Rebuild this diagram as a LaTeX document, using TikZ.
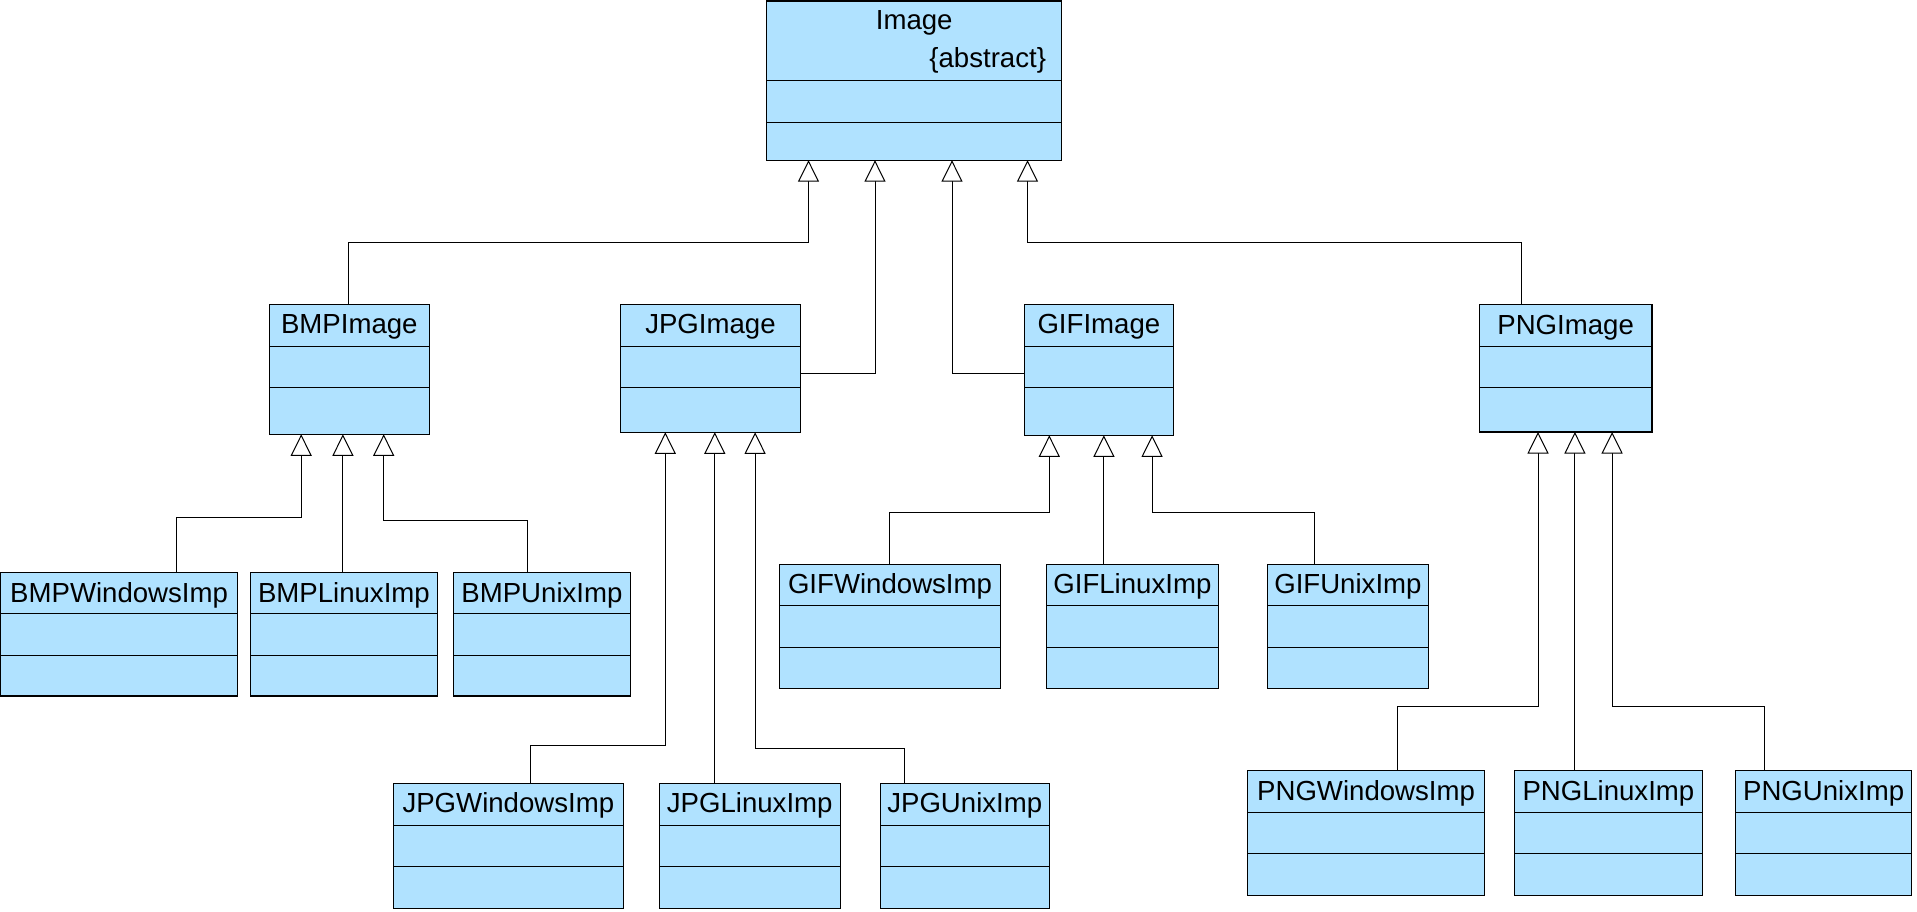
\documentclass[tikz,border=0pt]{standalone}
\usepackage{fontspec}
\setmainfont{Liberation Sans}
\usetikzlibrary{arrows.meta}
\definecolor{clsfill}{HTML}{B0E2FF}
\tikzset{
  cls/.style={draw=black, line width=1.1pt, fill=clsfill, rectangle, inner sep=0pt, outer sep=0pt},
  clsline/.style={draw=black, line width=1.1pt},
  clstitle/.style={inner sep=0pt, outer sep=0pt, font=\fontsize{27.6}{33}\selectfont},
  inh/.style={draw=black, line width=1pt, -{Triangle[length=21.5pt, width=21pt, fill=white, line width=1pt]}}
}
\newcommand\umlcls[8]{%
  \node[cls, minimum width={#4-#2}, minimum height={#5-#3}, anchor=north west] (#1) at (#2,#3) {};
  \draw[clsline] (#2,#6) -- (#4,#6) (#2,#7) -- (#4,#7);
  \node[clstitle, anchor=base] (#1-t) at ({(#2+#4)/2},{#3+29.5}) {#8};
}
\begin{document}
\begin{tikzpicture}[x=1pt,y=-1pt]
\useasboundingbox (0,0) rectangle (1917,912);
% top abstract class
\node[cls, minimum width=295pt, minimum height=159.2pt, anchor=north west] (img) at (766.7,1) {};
\draw[clsline] (766.7,80.5) -- (1061.7,80.5) (766.7,122.3) -- (1061.7,122.3);
\node[clstitle, anchor=base] (img-t) at (914.2,29.3) {Image};
\node[clstitle, anchor=base east] (img-a) at (1046,67.5) {\{abstract\}};
% second level
\umlcls{bmp}{269.3}{304.3}{429.3}{434.3}{346.3}{387.3}{BMPImage}
\umlcls{jpg}{620.5}{304.3}{800.4}{432.3}{346.3}{387.3}{JPGImage}
\umlcls{gif}{1024.5}{304.3}{1173.2}{435.3}{346.3}{387.3}{GIFImage}
\umlcls{png}{1479.3}{304.5}{1652}{432}{346.3}{387.2}{PNGImage}
% third level
\umlcls{bmpw}{0.6}{572.7}{237.6}{696}{613.3}{655.3}{BMPWindowsImp}
\umlcls{bmpl}{250.2}{572.7}{437.6}{696}{613.3}{655.3}{BMPLinuxImp}
\umlcls{bmpu}{453.5}{572.7}{630.4}{696}{613.3}{655.3}{BMPUnixImp}
\umlcls{gifw}{779.4}{564.3}{1000.6}{688.3}{605.3}{647.5}{GIFWindowsImp}
\umlcls{gifl}{1046.5}{564.3}{1218.2}{688.3}{605.3}{647.5}{GIFLinuxImp}
\umlcls{gifu}{1267.3}{564.3}{1428.5}{688.3}{605.3}{647.5}{GIFUnixImp}
\umlcls{jpgw}{393.4}{783.3}{623.3}{908.3}{825.3}{866.3}{JPGWindowsImp}
\umlcls{jpgl}{659.3}{783.3}{840.1}{908.3}{825.3}{866.3}{JPGLinuxImp}
\umlcls{jpgu}{880.4}{783.3}{1049.1}{908.3}{825.3}{866.3}{JPGUnixImp}
\umlcls{pngw}{1247.5}{770.8}{1484.6}{895.3}{812.4}{853.3}{PNGWindowsImp}
\umlcls{pngl}{1514.4}{770.8}{1702.4}{895.3}{812.4}{853.3}{PNGLinuxImp}
\umlcls{pngu}{1735.7}{770.8}{1911.5}{895.3}{812.4}{853.3}{PNGUnixImp}
% tip positions and bends
\coordinate (img-1) at (808.5,0);
\coordinate (img-4) at (1027.5,0);
\coordinate (bmp-b) at (348.3,242.3);
\coordinate (jpg-b) at (875,373.3);
\coordinate (gif-b) at (952,373.3);
\coordinate (png-b) at (1521,243);
\coordinate (bmp-1) at (301.2,0);
\coordinate (bmp-2) at (342.9,0);
\coordinate (bmp-3) at (383.7,0);
\coordinate (bmpw-b) at (176.3,517.3);
\coordinate (bmpu-b) at (527.3,520);
\coordinate (jpg-1) at (665.3,0);
\coordinate (jpg-2) at (714.8,0);
\coordinate (jpg-3) at (755.1,0);
\coordinate (jpgw-b) at (530.5,745);
\coordinate (jpgu-b) at (904.3,748.3);
\coordinate (gif-1) at (1049.3,0);
\coordinate (gif-2) at (1103.9,0);
\coordinate (gif-3) at (1152.1,0);
\coordinate (gifw-b) at (889.5,512.3);
\coordinate (gifu-b) at (1314.1,512.6);
\coordinate (png-1) at (1538,0);
\coordinate (png-2) at (1574.9,0);
\coordinate (png-3) at (1612.1,0);
\coordinate (pngw-b) at (1397.4,706.5);
\coordinate (pngu-b) at (1764.6,706.5);
% generalisations to Image
\draw[inh] (bmp.north -| bmp-b) -- (bmp-b) -| (img.south -| img-1);
\draw[inh] (jpg.east |- jpg-b) -- (jpg-b) -- (img.south -| jpg-b);
\draw[inh] (gif.west |- gif-b) -- (gif-b) -- (img.south -| gif-b);
\draw[inh] (png.north -| png-b) -- (png-b) -| (img.south -| img-4);
% BMP
\draw[inh] (bmpw.north -| bmpw-b) -- (bmpw-b) -| (bmp.south -| bmp-1);
\draw[inh] (bmpl.north -| bmp-2) -- (bmp.south -| bmp-2);
\draw[inh] (bmpu.north -| bmpu-b) -- (bmpu-b) -| (bmp.south -| bmp-3);
% JPG
\draw[inh] (jpgw.north -| jpgw-b) -- (jpgw-b) -| (jpg.south -| jpg-1);
\draw[inh] (jpgl.north -| jpg-2) -- (jpg.south -| jpg-2);
\draw[inh] (jpgu.north -| jpgu-b) -- (jpgu-b) -| (jpg.south -| jpg-3);
% GIF
\draw[inh] (gifw.north -| gifw-b) -- (gifw-b) -| (gif.south -| gif-1);
\draw[inh] (gifl.north -| gif-2) -- (gif.south -| gif-2);
\draw[inh] (gifu.north -| gifu-b) -- (gifu-b) -| (gif.south -| gif-3);
% PNG
\draw[inh] (pngw.north -| pngw-b) -- (pngw-b) -| (png.south -| png-1);
\draw[inh] (pngl.north -| png-2) -- (png.south -| png-2);
\draw[inh] (pngu.north -| pngu-b) -- (pngu-b) -| (png.south -| png-3);
\end{tikzpicture}
\end{document}
